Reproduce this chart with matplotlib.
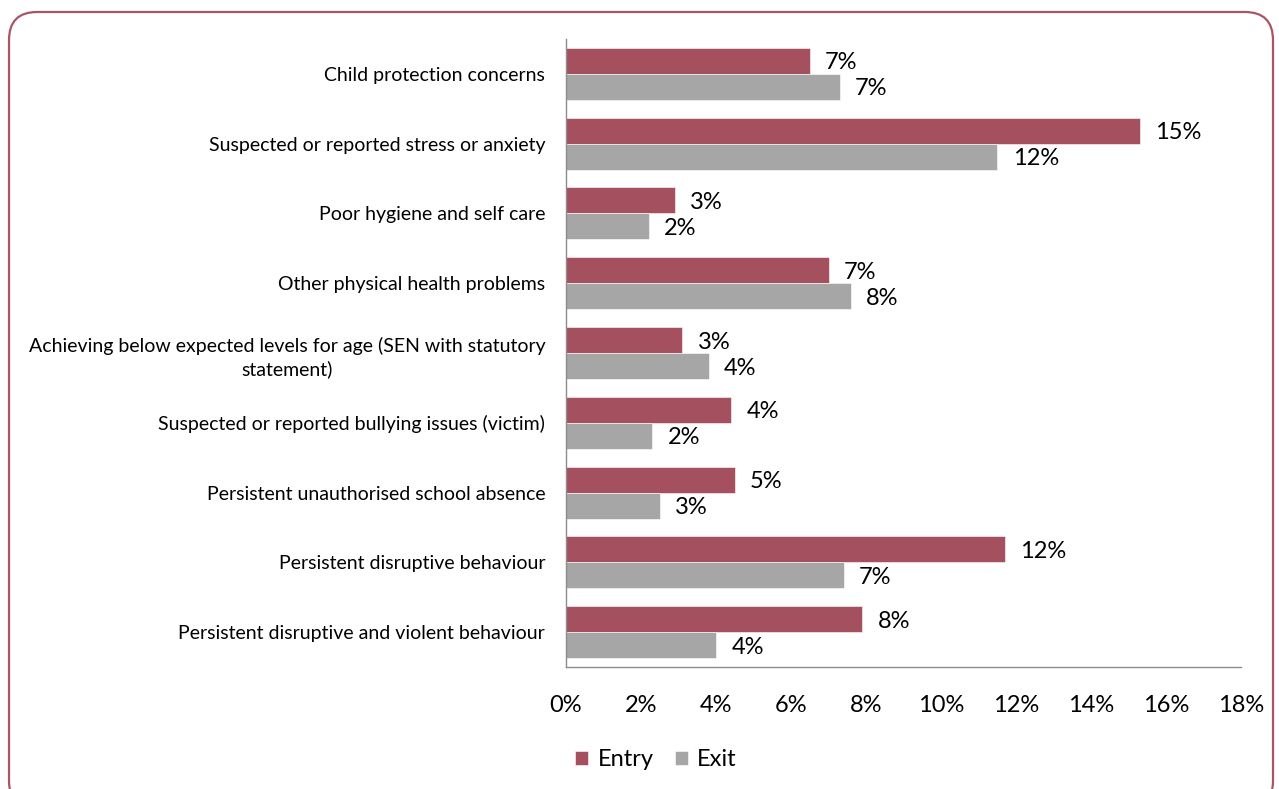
import numpy as np
import matplotlib.pyplot as plt
from matplotlib.patches import FancyBboxPatch

categories = [
    "Child protection concerns",
    "Suspected or reported stress or anxiety",
    "Poor hygiene and self care",
    "Other physical health problems",
    "Achieving below expected levels for age (SEN with statutory\nstatement)",
    "Suspected or reported bullying issues (victim)",
    "Persistent unauthorised school absence",
    "Persistent disruptive behaviour",
    "Persistent disruptive and violent behaviour",
]
entry = [6.5, 15.3, 2.9, 7.0, 3.1, 4.4, 4.5, 11.7, 7.9]
exit_ = [7.3, 11.5, 2.2, 7.6, 3.8, 2.3, 2.5, 7.4, 4.0]
xticks = [0, 2, 4, 6, 8, 10, 12, 14, 16, 18]

ENTRY_COL = "#a4505f"
EXIT_COL = "#a6a6a6"
FONT = ["Lato", "DejaVu Sans"]

plt.rcParams["font.family"] = FONT


def pct(v):
    # round half up, as the spreadsheet does
    return f"{int(np.floor(v + 0.5))}%"


fig = plt.figure(figsize=(12.79, 7.89), dpi=100)

# rounded frame around the chart
frame = FancyBboxPatch((9 / 1279, -20 / 789), 1264 / 1279, 797 / 789,
                       boxstyle="round,pad=0,rounding_size=0.022",
                       transform=fig.transFigure, fill=False,
                       edgecolor="#a95565", linewidth=1.6,
                       mutation_aspect=1279 / 789)
fig.patches.append(frame)

ax = fig.add_axes([566 / 1279, 122 / 789, 675 / 1279, 628 / 789])

y = np.arange(len(categories))
h = 0.373
ax.barh(y - h / 2, entry, height=h, color=ENTRY_COL, edgecolor="white",
        linewidth=0.4, label="Entry")
ax.barh(y + h / 2, exit_, height=h, color=EXIT_COL, edgecolor="white",
        linewidth=0.4, label="Exit")

for i in range(len(categories)):
    ax.annotate(pct(entry[i]), (entry[i], y[i] - h / 2),
                xytext=(11, -1.5), textcoords="offset points",
                va="center", ha="left", fontsize=17)
    ax.annotate(pct(exit_[i]), (exit_[i], y[i] + h / 2),
                xytext=(11, -1.5), textcoords="offset points",
                va="center", ha="left", fontsize=17)

ax.set_ylim(len(categories) - 0.5, -0.5)
ax.set_xlim(0, 18)
ax.set_xticks(xticks)
ax.set_xticklabels([f"{t}%" for t in xticks], fontsize=17)
ax.set_yticks(y)
ax.set_yticklabels(categories, fontsize=14, ha="right")
for lbl in ax.get_yticklabels():
    lbl.set_multialignment("center")
    lbl.set_linespacing(1.35)
ax.tick_params(axis="x", length=0, pad=20.5)
ax.tick_params(axis="y", length=0, pad=15)

for s in ["top", "right"]:
    ax.spines[s].set_visible(False)
for s in ["left", "bottom"]:
    ax.spines[s].set_color("#8c8c8c")
    ax.spines[s].set_linewidth(1.0)

ax.legend(loc="center", bbox_to_anchor=(656 / 1279, 29 / 789),
          bbox_transform=fig.transFigure, ncol=2, frameon=False,
          fontsize=17, handlelength=0.55, handleheight=0.55,
          handletextpad=0.4, columnspacing=0.9)

fig.savefig("out.png", dpi=100)
